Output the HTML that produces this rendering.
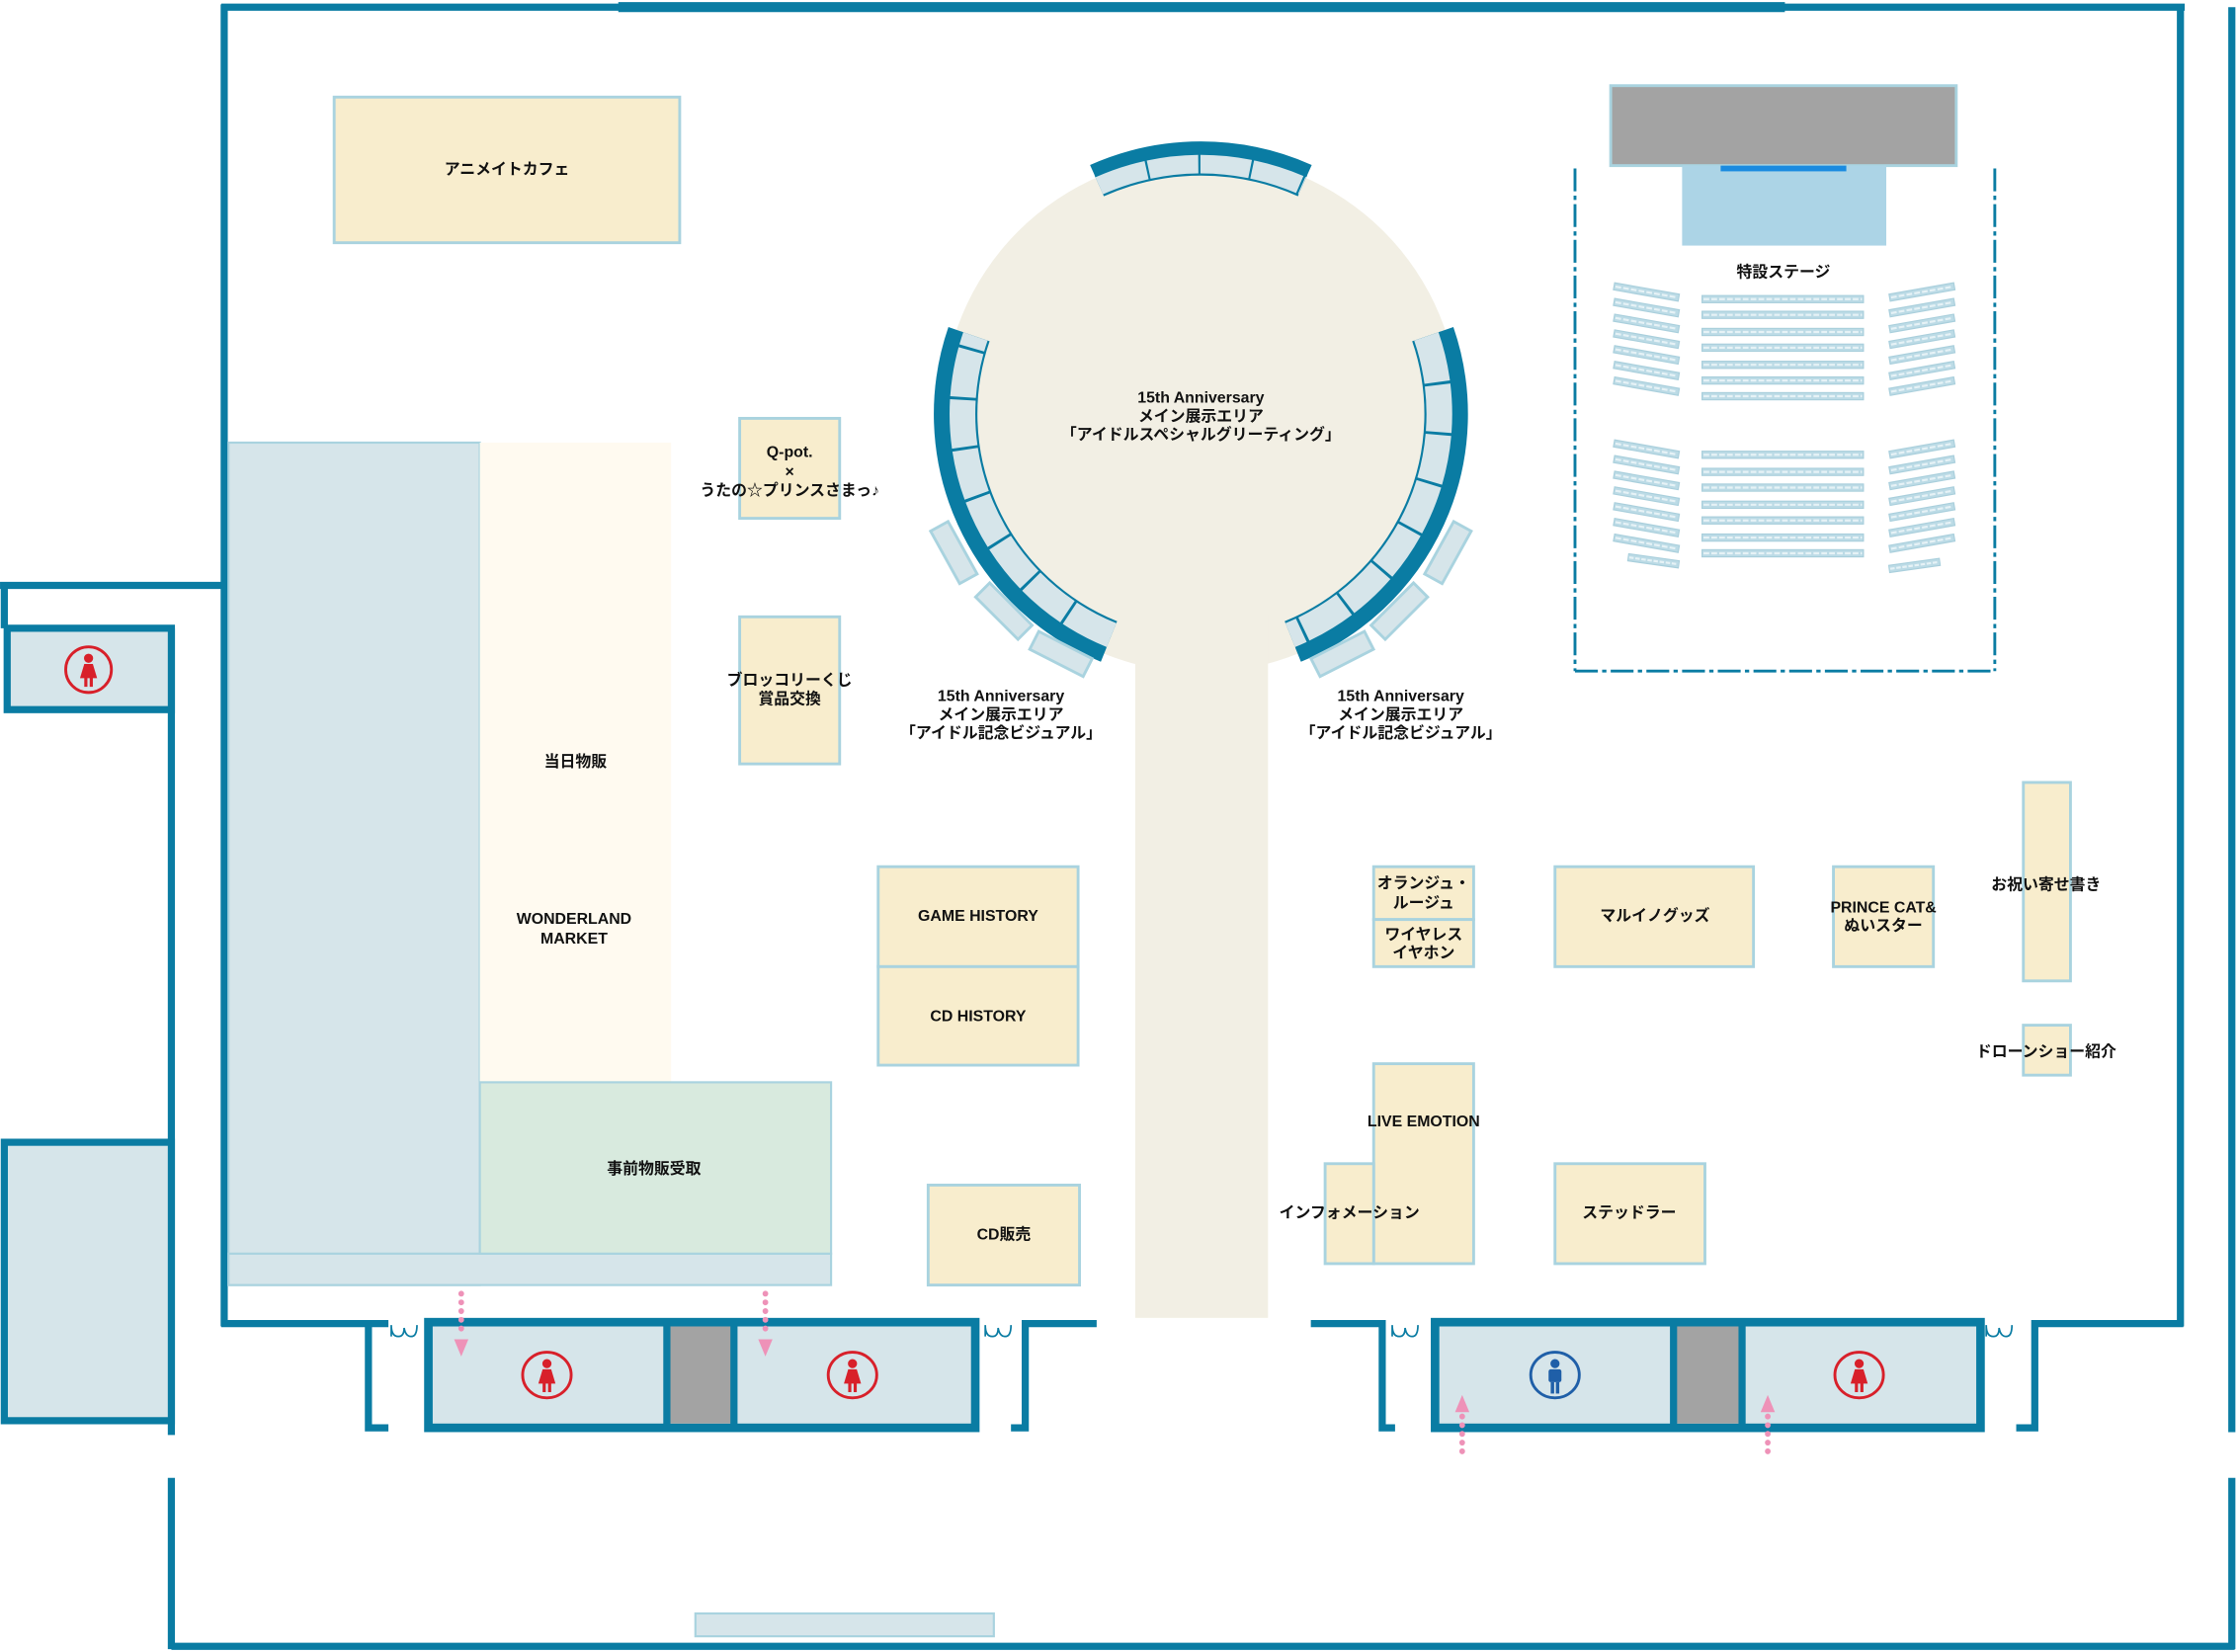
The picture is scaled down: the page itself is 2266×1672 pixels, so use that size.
<!DOCTYPE html>
<html><head><meta charset="utf-8"><style>
html,body{margin:0;padding:0;background:#fff;}
svg{display:block;}
text{font-family:"Liberation Sans","Noto Sans CJK JP",sans-serif;font-size:11px;font-weight:bold;fill:#111;text-anchor:middle;}
</style></head><body>
<svg width="2266" height="1672" viewBox="0 0 1568 1157" xmlns="http://www.w3.org/2000/svg">
<defs>
<g id="fem"><circle cx="0" cy="-9" r="3.2" fill="#d8202a"/><path d="M-3,-5 L3,-5 L6,5 L-6,5 Z" fill="#d8202a"/><rect x="-3" y="4" width="2.2" height="7" fill="#d8202a"/><rect x="0.8" y="4" width="2.2" height="7" fill="#d8202a"/></g>
<g id="male"><circle cx="0" cy="-9" r="3.2" fill="#1f5fa8"/><rect x="-4.5" y="-5" width="9" height="9" rx="1.5" fill="#1f5fa8"/><rect x="-3" y="4" width="2.4" height="8" fill="#1f5fa8"/><rect x="0.6" y="4" width="2.4" height="8" fill="#1f5fa8"/></g>
<g id="seatrow"><rect x="0" y="0" width="113" height="5" fill="#bcdbe6" stroke="#a9cfdc" stroke-width="0.8"/><line x1="1" y1="2.5" x2="112" y2="2.5" stroke="#e6f2f6" stroke-width="1.5" stroke-dasharray="4 1.5"/></g>
<g id="seatsm"><rect x="0" y="0" width="46" height="5" fill="#bcdbe6" stroke="#a9cfdc" stroke-width="0.8"/><line x1="1" y1="2.5" x2="45" y2="2.5" stroke="#e6f2f6" stroke-width="1.5" stroke-dasharray="4 1.5"/></g>
</defs>
<g fill="none" stroke="#0a7ca3" stroke-width="5">
<line x1="155" y1="5" x2="1530" y2="5"/>
<line x1="433" y1="5" x2="1250" y2="5" stroke-width="7"/>
<line x1="157" y1="3" x2="157" y2="929"/>
<line x1="1527" y1="3" x2="1527" y2="929"/>
<line x1="1563" y1="5" x2="1563" y2="1003"/>
<line x1="1563" y1="1035" x2="1563" y2="1155"/>
<line x1="120" y1="1153" x2="1565" y2="1153"/>
<line x1="120" y1="1035" x2="120" y2="1155"/>
<line x1="0" y1="410" x2="159" y2="410"/>
<line x1="3" y1="408" x2="3" y2="440"/>
<line x1="120" y1="440" x2="120" y2="1005"/>
<line x1="155" y1="927" x2="272" y2="927"/>
<path d="M258,927 V1000 H272"/>
<path d="M768,927 H718 V1000 H708"/>
<path d="M918,927 H968 V1000 H977"/>
<path d="M1529,927 H1425 V1000 H1412"/>
</g>
<rect x="5" y="440" width="115" height="57" fill="#d6e5ea" stroke="#0a7ca3" stroke-width="5"/>
<ellipse cx="62" cy="469" rx="16" ry="16" fill="none" stroke="#d8202a" stroke-width="2"/><use href="#fem" x="62" y="470"/>
<rect x="3" y="800" width="117" height="195" fill="#d6e5ea" stroke="#0a7ca3" stroke-width="5"/>
<g fill="none" stroke="#0a7ca3" stroke-width="1.2">
<path d="M274,936 v-8 q0,8 5,8 q4,0 4,-6 q1,6 5,6 q4,0 4,-8"/>
<path d="M690,936 v-8 q0,8 5,8 q4,0 4,-6 q1,6 5,6 q4,0 4,-8"/>
<path d="M975,936 v-8 q0,8 5,8 q4,0 4,-6 q1,6 5,6 q4,0 4,-8"/>
<path d="M1391,936 v-8 q0,8 5,8 q4,0 4,-6 q1,6 5,6 q4,0 4,-8"/>
</g>
<rect x="300" y="926" width="383" height="74" fill="#d6e5ea" stroke="#0a7ca3" stroke-width="6"/>
<rect x="467" y="929" width="46" height="68" fill="#a3a3a3"/>
<line x1="467" y1="926" x2="467" y2="1000" stroke="#0a7ca3" stroke-width="5"/>
<line x1="514" y1="926" x2="514" y2="1000" stroke="#0a7ca3" stroke-width="5"/>
<ellipse cx="383" cy="963" rx="17" ry="16" fill="none" stroke="#d8202a" stroke-width="2"/><use href="#fem" x="383" y="964"/>
<ellipse cx="597" cy="963" rx="17" ry="16" fill="none" stroke="#d8202a" stroke-width="2"/><use href="#fem" x="597" y="964"/>
<rect x="1005" y="926" width="382" height="74" fill="#d6e5ea" stroke="#0a7ca3" stroke-width="6"/>
<rect x="1172" y="929" width="48" height="68" fill="#a3a3a3"/>
<line x1="1172" y1="926" x2="1172" y2="1000" stroke="#0a7ca3" stroke-width="5"/>
<line x1="1220" y1="926" x2="1220" y2="1000" stroke="#0a7ca3" stroke-width="5"/>
<ellipse cx="1089" cy="963" rx="17" ry="16" fill="none" stroke="#1f5fa8" stroke-width="2"/><use href="#male" x="1089" y="964"/>
<ellipse cx="1302" cy="963" rx="17" ry="16" fill="none" stroke="#d8202a" stroke-width="2"/><use href="#fem" x="1302" y="964"/>
<g stroke="#ee92b8" stroke-width="4" stroke-linecap="round" stroke-dasharray="0.1 6" fill="none">
<line x1="323" y1="906" x2="323" y2="936"/><line x1="536" y1="906" x2="536" y2="936"/>
<line x1="1024" y1="992" x2="1024" y2="1022"/><line x1="1238" y1="992" x2="1238" y2="1022"/>
</g>
<g fill="#ee92b8">
<path d="M318,938 h10 l-5,12z"/><path d="M531,938 h10 l-5,12z"/>
<path d="M1019,989 h10 l-5,-12z"/><path d="M1233,989 h10 l-5,-12z"/>
</g>
<rect x="487" y="1130" width="209" height="16" fill="#d6e5ea" stroke="#a9d3df" stroke-width="1.5"/>
<rect x="160" y="310" width="176" height="590" fill="#d6e5ea" stroke="#a9d3df" stroke-width="1.5"/>
<rect x="160" y="878" width="422" height="22" fill="#d6e5ea" stroke="#a9d3df" stroke-width="1.5"/>
<rect x="336" y="310" width="134" height="448" fill="#fffaf0"/>
<rect x="336" y="758" width="246" height="120" fill="#d8eade" stroke="#a9d3df" stroke-width="1.5"/>
<g fill="#f8edcd" stroke="#a9d3df" stroke-width="2">
<rect x="234" y="68" width="242" height="102"/>
<rect x="518" y="293" width="70" height="70"/>
<rect x="518" y="432" width="70" height="103"/>
<rect x="615" y="607" width="140" height="70"/>
<rect x="615" y="677" width="140" height="69"/>
<rect x="650" y="830" width="106" height="70"/>
<rect x="962" y="607" width="70" height="37"/>
<rect x="962" y="644" width="70" height="33"/>
<rect x="1089" y="607" width="139" height="70"/>
<rect x="1284" y="607" width="70" height="70"/>
<rect x="1417" y="548" width="33" height="139"/>
<rect x="1417" y="718" width="33" height="35"/>
<rect x="962" y="745" width="70" height="140"/>
<rect x="928" y="815" width="34" height="70"/>
<rect x="1089" y="815" width="105" height="70"/>
</g>
<circle cx="841" cy="290" r="181" fill="#f2efe4"/>
<rect x="795" y="430" width="93" height="493" fill="#f2efe4"/>
<g fill="none">
<path d="M772.8,458.8 A182,182 0 0 1 668.9,230.7" stroke="#0a7ca3" stroke-width="10"/>
<path d="M778.4,444.8 A167,167 0 0 1 683.1,235.6" stroke="#0a7ca3" stroke-width="21"/>
<path d="M778.4,444.8 A167,167 0 0 1 683.1,235.6" stroke="#d6e5ea" stroke-width="18" stroke-dasharray="33 2"/>
<path d="M1013.1,230.7 A182,182 0 0 1 909.2,458.8" stroke="#0a7ca3" stroke-width="10"/>
<path d="M998.9,235.6 A167,167 0 0 1 903.6,444.8" stroke="#0a7ca3" stroke-width="21"/>
<path d="M998.9,235.6 A167,167 0 0 1 903.6,444.8" stroke="#d6e5ea" stroke-width="18" stroke-dasharray="33 2"/>
<path d="M765.4,120.1 A186,186 0 0 1 916.6,120.1" stroke="#0a7ca3" stroke-width="10"/>
<path d="M769.8,130.1 A175,175 0 0 1 912.2,130.1" stroke="#0a7ca3" stroke-width="16"/>
<path d="M769.8,130.1 A175,175 0 0 1 912.2,130.1" stroke="#d6e5ea" stroke-width="13" stroke-dasharray="35 1.5"/>
</g>
<g fill="#d6e5ea" stroke="#a9d3df" stroke-width="2">
<rect x="-21" y="-7" width="42" height="14" transform="translate(668,387) rotate(61)"/>
<rect x="-21" y="-7" width="42" height="14" transform="translate(703,428) rotate(45)"/>
<rect x="-21" y="-7" width="42" height="14" transform="translate(743,458) rotate(27)"/>
<rect x="-21" y="-7" width="42" height="14" transform="translate(1014,387) rotate(-61)"/>
<rect x="-21" y="-7" width="42" height="14" transform="translate(980,428) rotate(-45)"/>
<rect x="-21" y="-7" width="42" height="14" transform="translate(940,458) rotate(-27)"/>
</g>
<rect x="1128" y="60" width="242" height="56" fill="#a3a3a3" stroke="#a9d3df" stroke-width="2"/>
<rect x="1178" y="116" width="143" height="56" fill="#acd4e6"/>
<rect x="1205" y="116" width="88" height="4" fill="#1a8be0"/>
<g stroke="#0a7ca3" stroke-width="2" stroke-dasharray="16 3 3 3" fill="none">
<line x1="1103" y1="118" x2="1103" y2="470"/>
<line x1="1397" y1="118" x2="1397" y2="470"/>
<line x1="1103" y1="470" x2="1397" y2="470"/>
</g>
<g>
<use href="#seatrow" x="1192" y="207"/><use href="#seatrow" x="1192" y="218"/><use href="#seatrow" x="1192" y="230"/><use href="#seatrow" x="1192" y="241"/><use href="#seatrow" x="1192" y="253"/><use href="#seatrow" x="1192" y="264"/><use href="#seatrow" x="1192" y="275"/>
<use href="#seatrow" x="1192" y="316"/><use href="#seatrow" x="1192" y="328"/><use href="#seatrow" x="1192" y="339"/><use href="#seatrow" x="1192" y="351"/><use href="#seatrow" x="1192" y="362"/><use href="#seatrow" x="1192" y="374"/><use href="#seatrow" x="1192" y="385"/>
</g>
<g>
<use href="#seatsm" transform="translate(1130,202) rotate(10 23 2.5)"/>
<use href="#seatsm" transform="translate(1130,213) rotate(10 23 2.5)"/>
<use href="#seatsm" transform="translate(1130,224) rotate(10 23 2.5)"/>
<use href="#seatsm" transform="translate(1130,235) rotate(10 23 2.5)"/>
<use href="#seatsm" transform="translate(1130,246) rotate(10 23 2.5)"/>
<use href="#seatsm" transform="translate(1130,257) rotate(10 23 2.5)"/>
<use href="#seatsm" transform="translate(1130,268) rotate(10 23 2.5)"/>
<use href="#seatsm" transform="translate(1130,312) rotate(10 23 2.5)"/>
<use href="#seatsm" transform="translate(1130,323) rotate(10 23 2.5)"/>
<use href="#seatsm" transform="translate(1130,334) rotate(10 23 2.5)"/>
<use href="#seatsm" transform="translate(1130,345) rotate(10 23 2.5)"/>
<use href="#seatsm" transform="translate(1130,356) rotate(10 23 2.5)"/>
<use href="#seatsm" transform="translate(1130,367) rotate(10 23 2.5)"/>
<use href="#seatsm" transform="translate(1130,378) rotate(10 23 2.5)"/>
<use href="#seatsm" transform="translate(1140,391) rotate(8 23 2.5) scale(0.78 1)"/>
<use href="#seatsm" transform="translate(1323,202) rotate(-10 23 2.5)"/>
<use href="#seatsm" transform="translate(1323,213) rotate(-10 23 2.5)"/>
<use href="#seatsm" transform="translate(1323,224) rotate(-10 23 2.5)"/>
<use href="#seatsm" transform="translate(1323,235) rotate(-10 23 2.5)"/>
<use href="#seatsm" transform="translate(1323,246) rotate(-10 23 2.5)"/>
<use href="#seatsm" transform="translate(1323,257) rotate(-10 23 2.5)"/>
<use href="#seatsm" transform="translate(1323,268) rotate(-10 23 2.5)"/>
<use href="#seatsm" transform="translate(1323,312) rotate(-10 23 2.5)"/>
<use href="#seatsm" transform="translate(1323,323) rotate(-10 23 2.5)"/>
<use href="#seatsm" transform="translate(1323,334) rotate(-10 23 2.5)"/>
<use href="#seatsm" transform="translate(1323,345) rotate(-10 23 2.5)"/>
<use href="#seatsm" transform="translate(1323,356) rotate(-10 23 2.5)"/>
<use href="#seatsm" transform="translate(1323,367) rotate(-10 23 2.5)"/>
<use href="#seatsm" transform="translate(1323,378) rotate(-10 23 2.5)"/>
<use href="#seatsm" transform="translate(1323,396) rotate(-8 0 2.5) scale(0.78 1)"/>
</g>
<text x="355" y="122">アニメイトカフェ</text>
<text x="1249" y="194">特設ステージ</text>
<text x="841" y="282">15th Anniversary</text>
<text x="841" y="295">メイン展示エリア</text>
<text x="841" y="308">「アイドルスペシャルグリーティング」</text>
<text x="553" y="320">Q-pot.</text>
<text x="553" y="334">×</text>
<text x="553" y="347">うたの☆プリンスさまっ♪</text>
<text x="553" y="480">ブロッコリーくじ</text>
<text x="553" y="493">賞品交換</text>
<text x="701" y="491">15th Anniversary</text>
<text x="701" y="504">メイン展示エリア</text>
<text x="701" y="517">「アイドル記念ビジュアル」</text>
<text x="981" y="491">15th Anniversary</text>
<text x="981" y="504">メイン展示エリア</text>
<text x="981" y="517">「アイドル記念ビジュアル」</text>
<text x="403" y="537">当日物販</text>
<text x="402" y="647">WONDERLAND</text>
<text x="402" y="661">MARKET</text>
<text x="458" y="822">事前物販受取</text>
<text x="685" y="645">GAME HISTORY</text>
<text x="685" y="715">CD HISTORY</text>
<text x="703" y="868">CD販売</text>
<text x="997" y="622">オランジュ・</text>
<text x="997" y="636">ルージュ</text>
<text x="997" y="658">ワイヤレス</text>
<text x="997" y="671">イヤホン</text>
<text x="1159" y="645">マルイノグッズ</text>
<text x="1319" y="639">PRINCE CAT&amp;</text>
<text x="1319" y="652">ぬいスター</text>
<text x="1433" y="623">お祝い寄せ書き</text>
<text x="1433" y="740">ドローンショー紹介</text>
<text x="997" y="789">LIVE EMOTION</text>
<text x="945" y="853">インフォメーション</text>
<text x="1141" y="853">ステッドラー</text>
</svg>
</body></html>
